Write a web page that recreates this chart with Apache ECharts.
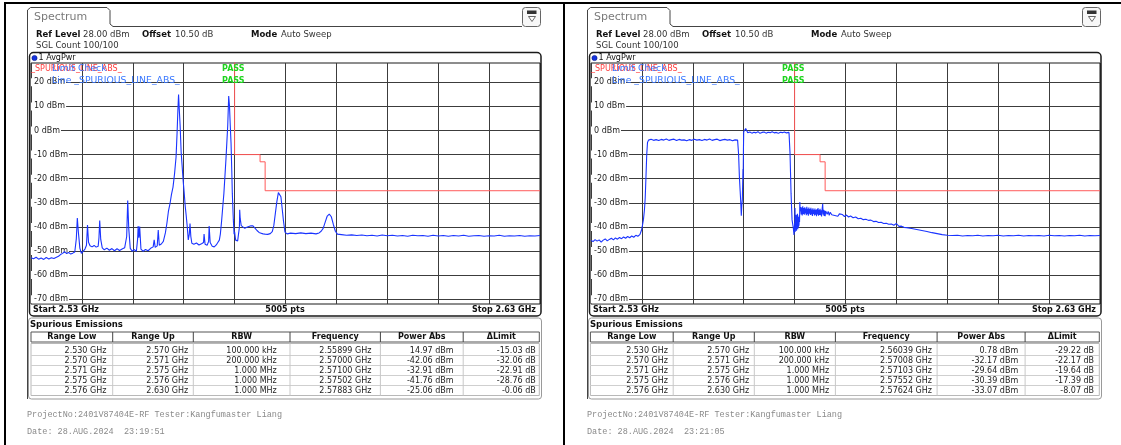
<!DOCTYPE html>
<html>
<head>
<meta charset="utf-8">
<script src="https://cdn.jsdelivr.net/npm/echarts@6/dist/echarts.min.js"></script>
<style>
html, body { margin: 0; padding: 0; background: #fff; }
#main { width: 1121px; height: 445px; }
</style>
</head>
<body>
<div id="main"></div>
<script>
// --- axis / limit data ---
var yTicks = [20, 10, 0, -10, -20, -30, -40, -50, -60, -70];
var limitFreq = [2530, 2570, 2570, 2575, 2575, 2576, 2576, 2630];   // MHz
var limitLevel = [30, 30, -10, -10, -13, -13, -25, -25];            // dBm

// --- traces, [MHz, dBm] ---
var leftTrace = [
  [2530.0,-52.8],[2530.5,-53.2],[2531.0,-52.6],[2531.5,-53.4],[2532.0,-52.9],[2532.5,-53.5],[2533.0,-52.7],[2533.5,-53.3],
  [2534.0,-52.8],[2534.5,-53.1],[2535.0,-52.6],[2535.4,-52.2],[2535.8,-51.5],[2536.2,-51.0],[2536.6,-50.3],[2537.0,-51.1],
  [2537.4,-50.6],[2537.8,-51.3],[2538.2,-50.9],[2538.6,-50.4],[2538.9,-45.0],[2539.1,-36.3],[2539.3,-42.0],[2539.6,-48.8],
  [2539.9,-51.0],[2540.2,-50.3],[2540.6,-49.2],[2540.9,-47.6],[2541.1,-39.2],[2541.3,-46.4],[2541.6,-47.8],[2542.0,-48.3],
  [2542.4,-47.7],[2542.8,-48.4],[2543.2,-48.0],[2543.35,-44.5],[2543.5,-37.4],[2543.7,-45.2],[2544.0,-48.7],[2544.4,-49.5],
  [2544.9,-48.8],[2545.4,-49.7],[2545.9,-49.0],[2546.4,-49.9],[2546.9,-49.1],[2547.4,-49.8],[2547.9,-49.2],[2548.4,-48.7],
  [2548.8,-44.0],[2549.0,-29.1],[2549.2,-40.5],[2549.5,-48.9],[2549.9,-50.1],[2550.3,-49.4],[2550.7,-50.2],[2550.95,-45.0],
  [2551.05,-39.6],[2551.2,-44.5],[2551.35,-39.9],[2551.6,-49.2],[2552.0,-50.1],[2552.5,-49.4],[2553.0,-49.9],[2553.5,-48.9],
  [2554.0,-48.3],[2554.2,-45.4],[2554.4,-48.5],[2554.8,-47.9],[2555.0,-41.3],[2555.2,-47.6],[2555.6,-47.1],[2556.0,-46.0],
  [2556.4,-42.5],[2556.7,-38.5],[2557.0,-33.5],[2557.3,-30.5],[2557.6,-26.5],[2557.9,-23.5],[2558.2,-18.0],[2558.5,-11.0],
  [2558.7,-1.0],[2558.85,8.0],[2558.99,14.97],[2559.1,10.0],[2559.3,2.0],[2559.5,-9.0],[2559.7,-15.0],[2559.9,-21.0],
  [2560.1,-26.0],[2560.3,-31.5],[2560.5,-35.5],[2560.7,-40.0],[2560.9,-45.4],[2561.1,-43.0],[2561.24,-38.6],[2561.4,-44.0],
  [2561.6,-46.8],[2562.0,-47.2],[2562.5,-46.7],[2563.0,-47.5],[2563.5,-47.0],[2563.9,-46.5],[2564.0,-43.0],[2564.2,-47.2],
  [2564.6,-47.6],[2564.9,-46.0],[2565.0,-39.6],[2565.2,-46.5],[2565.6,-48.0],[2566.0,-48.3],[2566.4,-47.5],[2566.7,-46.5],
  [2567.0,-45.5],[2567.2,-43.0],[2567.45,-37.5],[2567.7,-31.0],[2567.9,-26.0],[2568.1,-19.0],[2568.3,-12.0],[2568.5,-4.0],
  [2568.65,2.0],[2568.84,14.3],[2569.0,10.0],[2569.15,2.0],[2569.3,-5.2],[2569.45,-17.0],[2569.55,-26.0],[2569.75,-37.0],
  [2569.9,-43.0],[2570.0,-42.06],[2570.2,-45.5],[2570.4,-46.3],[2570.6,-45.8],[2570.8,-46.6],[2570.95,-40.0],[2571.0,-32.91],
  [2571.1,-36.5],[2571.3,-39.5],[2571.6,-40.3],[2572.0,-40.6],[2572.4,-40.2],[2572.8,-39.8],[2573.2,-39.5],[2573.6,-39.6],
  [2574.0,-40.5],[2574.4,-41.5],[2574.8,-42.3],[2575.02,-41.76],[2575.2,-42.6],[2575.6,-42.9],[2576.0,-43.0],[2576.5,-43.1],
  [2577.0,-42.8],[2577.4,-42.0],[2577.7,-39.5],[2578.0,-34.5],[2578.3,-29.5],[2578.6,-25.8],[2578.83,-25.06],[2579.1,-27.5],
  [2579.35,-32.5],[2579.6,-37.5],[2579.9,-42.2],[2580.3,-42.9],[2581.0,-42.6],[2582.0,-42.8],[2583.0,-42.5],[2584.0,-42.8],
  [2585.0,-42.6],[2586.0,-42.9],[2586.6,-42.5],[2587.0,-41.8],[2587.4,-40.6],[2587.8,-38.0],[2588.2,-35.5],[2588.6,-34.7],
  [2589.0,-35.8],[2589.4,-39.0],[2589.8,-41.8],[2590.2,-43.0],[2591.0,-43.2],[2592.0,-43.5],[2593.0,-43.3],[2594.0,-43.6],
  [2595.0,-43.4],[2596.0,-43.7],[2597.0,-43.5],[2598.0,-43.8],[2599.0,-43.4],[2600.0,-43.7],[2601.0,-43.5],[2602.0,-43.8],
  [2603.0,-43.6],[2604.0,-43.9],[2605.0,-43.5],[2606.0,-43.7],[2607.0,-43.6],[2608.0,-43.9],[2609.0,-43.5],[2610.0,-43.8],
  [2611.0,-43.6],[2612.0,-43.9],[2613.0,-43.6],[2614.0,-43.8],[2615.0,-43.5],[2616.0,-43.9],[2617.0,-43.7],[2618.0,-43.6],
  [2619.0,-43.9],[2620.0,-43.7],[2621.0,-43.8],[2622.0,-43.5],[2623.0,-43.9],[2624.0,-43.7],[2625.0,-43.8],[2626.0,-43.6],
  [2627.0,-43.9],[2628.0,-43.7],[2629.0,-43.8],[2630.0,-43.6]
];

var rightTrace = [
  [2530.0,-45.6],[2530.4,-46.1],[2530.8,-45.3],[2531.2,-45.9],[2531.6,-45.4],[2532.0,-46.3],[2532.4,-45.5],[2532.8,-45.0],
  [2533.2,-45.8],[2533.6,-45.2],[2534.0,-44.7],[2534.4,-45.4],[2534.8,-44.6],[2535.2,-45.1],[2535.6,-44.4],[2536.0,-44.9],
  [2536.4,-44.2],[2536.8,-44.7],[2537.2,-44.0],[2537.6,-44.5],[2538.0,-43.8],[2538.4,-44.3],[2538.8,-43.5],[2539.2,-43.9],
  [2539.6,-43.2],[2539.9,-41.5],[2540.1,-39.5],[2540.3,-37.0],[2540.5,-33.0],[2540.65,-28.0],[2540.8,-19.2],[2540.95,-10.0],
  [2541.1,-5.0],[2541.3,-4.0],[2541.8,-3.6],[2542.3,-4.1],[2542.8,-3.8],[2543.3,-4.2],[2543.8,-3.7],[2544.3,-4.0],
  [2544.8,-3.5],[2545.3,-4.1],[2545.8,-3.8],[2546.3,-3.6],[2546.8,-4.2],[2547.3,-3.7],[2547.8,-4.0],[2548.3,-3.9],
  [2548.8,-4.3],[2549.3,-3.8],[2549.8,-4.1],[2550.3,-3.6],[2550.8,-4.0],[2551.3,-3.8],[2551.8,-4.2],[2552.3,-3.7],
  [2552.8,-4.0],[2553.3,-3.5],[2553.8,-4.1],[2554.3,-3.8],[2554.8,-3.6],[2555.3,-4.2],[2555.8,-3.9],[2556.3,-3.7],
  [2556.8,-4.0],[2557.3,-3.8],[2557.8,-4.3],[2558.3,-3.9],[2558.8,-4.0],[2559.0,-10.0],[2559.15,-19.0],[2559.3,-25.0],
  [2559.4,-28.8],[2559.53,-35.4],[2559.63,-31.0],[2559.73,-28.8],[2559.8,-22.0],[2559.86,-16.0],[2559.9,-20.0],[2559.95,-8.0],
  [2560.0,-0.5],[2560.39,0.78],[2560.8,-0.9],[2561.2,-0.6],[2561.6,-1.1],[2562.0,-0.7],[2562.4,-1.0],[2562.8,-0.5],
  [2563.2,-1.2],[2563.6,-0.8],[2564.0,-0.6],[2564.4,-1.1],[2564.8,-0.7],[2565.2,-0.9],[2565.6,-0.5],[2566.0,-1.0],
  [2566.4,-0.8],[2566.8,-1.2],[2567.2,-0.7],[2567.6,-0.9],[2568.0,-0.6],[2568.4,-1.0],[2568.9,-0.8],[2569.1,-9.4],
  [2569.3,-26.0],[2569.5,-37.1],[2569.76,-40.6],[2569.88,-43.4],[2570.0,-38.5],[2570.04,-41.5],[2570.08,-32.17],[2570.14,-42.0],
  [2570.2,-36.5],[2570.26,-40.8],[2570.32,-35.0],[2570.38,-41.6],[2570.44,-36.2],[2570.5,-39.8],[2570.56,-34.6],[2570.62,-41.0],
  [2570.68,-35.8],[2570.74,-40.2],[2570.8,-36.0],[2570.86,-39.5],[2570.92,-35.2],[2570.97,-38.0],[2571.03,-29.64],[2571.1,-33.5],
  [2571.2,-31.8],[2571.3,-34.8],[2571.4,-32.0],[2571.5,-35.3],[2571.6,-31.5],[2571.7,-34.6],[2571.8,-32.2],[2571.9,-35.0],
  [2572.0,-31.9],[2572.1,-34.4],[2572.2,-32.4],[2572.3,-35.2],[2572.4,-31.7],[2572.5,-34.7],[2572.6,-32.5],[2572.7,-35.4],
  [2572.8,-32.0],[2572.9,-34.5],[2573.0,-32.6],[2573.1,-35.1],[2573.2,-32.1],[2573.3,-34.8],[2573.4,-32.8],[2573.5,-35.5],
  [2573.6,-32.3],[2573.7,-34.6],[2573.8,-32.9],[2573.9,-35.3],[2574.0,-32.4],[2574.1,-34.9],[2574.2,-33.0],[2574.3,-35.6],
  [2574.4,-32.6],[2574.5,-34.8],[2574.6,-32.2],[2574.7,-35.4],[2574.8,-32.9],[2574.9,-35.0],[2575.0,-32.5],[2575.1,-35.2],
  [2575.2,-33.1],[2575.3,-35.7],[2575.4,-32.8],[2575.52,-30.39],[2575.6,-34.9],[2575.7,-32.9],[2575.8,-35.5],[2575.9,-33.2],
  [2576.0,-35.6],[2576.1,-33.4],[2576.24,-33.07],[2576.4,-34.8],[2576.6,-33.6],[2576.8,-35.2],[2577.0,-33.9],[2577.3,-35.0],
  [2577.6,-34.2],[2577.9,-35.3],[2578.2,-34.5],[2578.5,-35.6],[2578.8,-34.6],[2579.1,-35.4],[2579.4,-34.9],[2579.8,-35.7],
  [2580.2,-35.1],[2580.6,-35.9],[2581.0,-35.5],[2581.5,-36.2],[2582.0,-35.9],[2582.5,-36.6],[2583.0,-36.4],[2583.5,-37.0],
  [2584.0,-36.8],[2584.5,-37.3],[2585.0,-37.2],[2585.5,-37.8],[2586.0,-37.7],[2586.5,-38.2],[2587.0,-38.1],[2587.5,-38.6],
  [2588.0,-38.5],[2588.5,-38.9],[2589.0,-38.8],[2589.5,-39.3],[2590.0,-38.6],[2590.5,-39.8],[2591.0,-39.7],[2591.5,-40.2],
  [2592.0,-40.3],[2593.0,-40.7],[2594.0,-41.1],[2595.0,-41.5],[2596.0,-41.9],[2597.0,-42.4],[2598.0,-42.8],[2599.0,-43.2],
  [2600.0,-43.5],[2601.0,-43.6],[2602.0,-43.5],[2603.0,-43.8],[2604.0,-43.6],[2605.0,-43.7],[2606.0,-43.5],[2607.0,-43.8],
  [2608.0,-43.6],[2609.0,-43.7],[2610.0,-43.5],[2611.0,-43.8],[2612.0,-43.6],[2613.0,-43.7],[2614.0,-43.5],[2615.0,-43.8],
  [2616.0,-43.6],[2617.0,-43.7],[2618.0,-43.6],[2619.0,-43.8],[2620.0,-43.5],[2621.0,-43.7],[2622.0,-43.6],[2623.0,-43.8],
  [2624.0,-43.6],[2625.0,-43.7],[2626.0,-43.5],[2627.0,-43.8],[2628.0,-43.6],[2629.0,-43.7],[2630.0,-43.6]
];

// --- result tables ---
var tableHead = ['Range Low', 'Range Up', 'RBW', 'Frequency', 'Power Abs', '\u0394Limit'];
var rangeLow = ['2.530 GHz', '2.570 GHz', '2.571 GHz', '2.575 GHz', '2.576 GHz'];
var rangeUp = ['2.570 GHz', '2.571 GHz', '2.575 GHz', '2.576 GHz', '2.630 GHz'];
var rbw = ['100.000 kHz', '200.000 kHz', '1.000 MHz', '1.000 MHz', '1.000 MHz'];
var leftPeakFreq = ['2.55899 GHz', '2.57000 GHz', '2.57100 GHz', '2.57502 GHz', '2.57883 GHz'];
var leftPeakPwr = ['14.97 dBm', '-42.06 dBm', '-32.91 dBm', '-41.76 dBm', '-25.06 dBm'];
var leftDelta = ['-15.03 dB', '-32.06 dB', '-22.91 dB', '-28.76 dB', '-0.06 dB'];
var rightPeakFreq = ['2.56039 GHz', '2.57008 GHz', '2.57103 GHz', '2.57552 GHz', '2.57624 GHz'];
var rightPeakPwr = ['0.78 dBm', '-32.17 dBm', '-29.64 dBm', '-30.39 dBm', '-33.07 dBm'];
var rightDelta = ['-29.22 dB', '-22.17 dB', '-19.64 dB', '-17.39 dB', '-8.07 dB'];
var projectLine = 'ProjectNo:2401V87404E-RF Tester:Kangfumaster Liang';
var leftDate = 'Date: 28.AUG.2024  23:19:51';
var rightDate = 'Date: 28.AUG.2024  23:21:05';

var SANS = 'DejaVu Sans';
var MONO = 'Liberation Mono';
var GRIDC = '#3c3c3c';

function txt(x, y, s, o) {
  o = o || {};
  var a = o.align || 'left';
  return {
    type: 'text', x: x, y: y, silent: true, z: o.z || 20,
    style: {
      text: s, fill: o.fill || '#111',
      font: (o.bold ? 'bold ' : '') + (o.size || 8) + 'px "' + (o.family || SANS) + '"',
      align: a, textAlign: a, verticalAlign: 'middle', textVerticalAlign: 'middle'
    }
  };
}
function ln(x1, y1, x2, y2, c, w) {
  return { type: 'line', silent: true, z: 15, shape: { x1: x1, y1: y1, x2: x2, y2: y2 },
    style: { stroke: c, lineWidth: w || 1 } };
}

// builds the decorations of one analyzer screen shifted by dx
function panel(dx, cols, ends, cells, dateText) {
  var g = [];
  // tab + panel outline
  g.push({ type: 'polyline', silent: true, z: 15,
    shape: { points: [[27.5 + dx, 399], [27.5 + dx, 10], [30.5 + dx, 7.5], [107 + dx, 7.5], [110 + dx, 10.5],
      [110 + dx, 24], [113 + dx, 26.5], [522 + dx, 26.5]] },
    style: { stroke: '#444', lineWidth: 1, fill: null } });
  // menu icon
  g.push({ type: 'rect', silent: true, z: 15, shape: { x: 522.5 + dx, y: 7.5, width: 18, height: 19, r: 3 },
    style: { fill: '#f7f7f7', stroke: '#666', lineWidth: 1 } });
  g.push({ type: 'rect', silent: true, z: 16, shape: { x: 527 + dx, y: 10.5, width: 9.5, height: 3.5 },
    style: { fill: '#333' } });
  g.push({ type: 'polygon', silent: true, z: 16, shape: { points: [[528.5 + dx, 16.5], [535.5 + dx, 16.5], [532 + dx, 21.5]] },
    style: { fill: '#fff', stroke: '#444', lineWidth: 0.8 } });

  g.push(txt(34 + dx, 17, 'Spectrum', { size: 11, fill: '#7a7a7a' }));
  g.push(txt(36 + dx, 35, 'Ref Level', { bold: true, size: 8.5 }));
  g.push(txt(83 + dx, 35, '28.00 dBm', { size: 8.5, fill: '#333' }));
  g.push(txt(142 + dx, 35, 'Offset', { bold: true, size: 8.5 }));
  g.push(txt(175 + dx, 35, '10.50 dB', { size: 8.5, fill: '#333' }));
  g.push(txt(251 + dx, 35, 'Mode', { bold: true, size: 8.5 }));
  g.push(txt(281 + dx, 35, 'Auto Sweep', { size: 8.5, fill: '#333' }));
  g.push(txt(36 + dx, 46, 'SGL Count 100/100', { size: 8.5, fill: '#333' }));

  // diagram frame
  g.push({ type: 'rect', silent: true, z: 15, shape: { x: 29.5 + dx, y: 52.5, width: 511.5, height: 263.5, r: 4 },
    style: { fill: null, stroke: '#1a1a1a', lineWidth: 1.5 } });
  g.push({ type: 'circle', silent: true, z: 16, shape: { cx: 34.5 + dx, cy: 58, r: 2.6 },
    style: { fill: '#1533e0', stroke: '#0a1a80', lineWidth: 0.6 } });
  g.push(txt(38.5 + dx, 58, '1 AvgPwr', { size: 8 }));
  g.push(txt(31 + dx, 69, '_SPURIOUS_LINE_ABS_', { size: 8, fill: '#ff3b3b' }));
  g.push(txt(52 + dx, 69, 'Limit Check', { size: 9.3, fill: '#3a78ff', z: 21 }));
  g.push(txt(52 + dx, 81, 'Line _SPURIOUS_LINE_ABS_', { size: 9.3, fill: '#3a78ff', z: 21 }));
  g.push(txt(222 + dx, 69, 'PASS', { size: 8, bold: true, fill: '#1ed41e' }));
  g.push(txt(222 + dx, 81, 'PASS', { size: 8, bold: true, fill: '#1ed41e' }));
  g.push(txt(33 + dx, 310, 'Start 2.53 GHz', { size: 8, bold: true }));
  g.push(txt(285 + dx, 310, '5005 pts', { size: 8, bold: true, align: 'center' }));
  g.push(txt(536 + dx, 310, 'Stop 2.63 GHz', { size: 8, bold: true, align: 'right' }));

  // spurious emissions table
  g.push({ type: 'rect', silent: true, z: 14, shape: { x: 28.5 + dx, y: 318, width: 513, height: 81, r: 3 },
    style: { fill: '#fff', stroke: '#9a9a9a', lineWidth: 1 } });
  g.push(txt(30 + dx, 325, 'Spurious Emissions', { size: 8.5, bold: true }));
  var x0 = cols[0], x1 = cols[cols.length - 1];
  g.push({ type: 'rect', silent: true, z: 15, shape: { x: x0, y: 332, width: x1 - x0, height: 10 },
    style: { fill: '#fff', stroke: '#555', lineWidth: 1 } });
  g.push({ type: 'rect', silent: true, z: 15, shape: { x: x0, y: 343.5, width: x1 - x0, height: 52 },
    style: { fill: '#fff', stroke: '#b8b8b8', lineWidth: 1 } });
  for (var k = 1; k < 5; k++) g.push(ln(x0, 345.5 + 10 * k, x1, 345.5 + 10 * k, '#cfcfcf'));
  for (var c = 1; c < cols.length - 1; c++) {
    g.push(ln(cols[c], 332, cols[c], 342, '#444'));
    g.push(ln(cols[c], 343.5, cols[c], 395.5, '#c8c8c8'));
  }
  for (c = 0; c < tableHead.length; c++) {
    g.push(txt((cols[c] + cols[c + 1]) / 2, 337, tableHead[c], { size: 8, bold: true, align: 'center' }));
  }
  for (var r = 0; r < 5; r++) {
    for (c = 0; c < cells.length; c++) {
      g.push(txt(ends[c], 350.5 + 10 * r, cells[c][r], { size: 8, align: 'right', fill: '#222' }));
    }
  }
  g.push(txt(27 + dx, 415, projectLine, { size: 8.5, family: MONO, fill: '#8a8a8a' }));
  g.push(txt(27 + dx, 432, dateText, { size: 8.5, family: MONO, fill: '#8a8a8a' }));
  return g;
}

var graphics = [
  { type: 'rect', silent: true, z: 30, shape: { x: 4, y: 2, width: 1117, height: 2 }, style: { fill: '#000' } },
  { type: 'rect', silent: true, z: 30, shape: { x: 4, y: 2, width: 2, height: 443 }, style: { fill: '#000' } },
  { type: 'rect', silent: true, z: 30, shape: { x: 563, y: 2, width: 2, height: 443 }, style: { fill: '#000' } }
];
graphics = graphics.concat(panel(0,
  [31, 112.7, 193.3, 290, 380.4, 463.2, 539.3],
  [106.4, 188.2, 276.8, 371.4, 453.6, 535.7],
  [rangeLow, rangeUp, rbw, leftPeakFreq, leftPeakPwr, leftDelta], leftDate));
graphics = graphics.concat(panel(560,
  [590.4, 673.2, 754.3, 835.4, 937.1, 1025.1, 1099.3],
  [668, 749.1, 829.1, 932, 1018.2, 1094.1],
  [rangeLow, rangeUp, rbw, rightPeakFreq, rightPeakPwr, rightDelta], rightDate));

function xAx(i) {
  return { type: 'value', gridIndex: i, min: 2530, max: 2630, interval: 10,
    axisLine: { show: false }, axisTick: { show: false }, axisLabel: { show: false },
    splitLine: { show: true, lineStyle: { color: GRIDC, width: 1 } } };
}
function yAx(i) {
  return { type: 'value', gridIndex: i, min: -72, max: 28,
    axisLine: { show: false },
    axisTick: { show: false, customValues: yTicks },
    splitLine: { show: true, lineStyle: { color: GRIDC, width: 1 } },
    axisLabel: { inside: true, customValues: yTicks, margin: 0, formatter: '{value} dBm',
      color: '#222', fontSize: 8, fontFamily: SANS, backgroundColor: '#fff', padding: [0, 1, 0, 3] } };
}
function limitData() {
  return limitFreq.map(function (f, i) { return [f, limitLevel[i]]; });
}
function traceSeries(i, data) {
  return { type: 'line', xAxisIndex: i, yAxisIndex: i, data: data, showSymbol: false, z: 3,
    lineStyle: { color: '#1a34ff', width: 1.1 }, clip: true };
}
function limitSeries(i) {
  return { type: 'line', xAxisIndex: i, yAxisIndex: i, data: limitData(), showSymbol: false, z: 4,
    lineStyle: { color: '#ff5a5a', width: 1 }, clip: true };
}

var chart = echarts.init(document.getElementById('main'));
chart.setOption({
  animation: false,
  backgroundColor: '#fff',
  grid: [
    { left: 31, top: 63, width: 509, height: 241, show: true, borderColor: '#1a1a1a', borderWidth: 1, backgroundColor: '#fff' },
    { left: 591, top: 63, width: 509, height: 241, show: true, borderColor: '#1a1a1a', borderWidth: 1, backgroundColor: '#fff' }
  ],
  xAxis: [xAx(0), xAx(1)],
  yAxis: [yAx(0), yAx(1)],
  series: [traceSeries(0, leftTrace), limitSeries(0), traceSeries(1, rightTrace), limitSeries(1)],
  graphic: graphics
});
</script>
</body>
</html>
